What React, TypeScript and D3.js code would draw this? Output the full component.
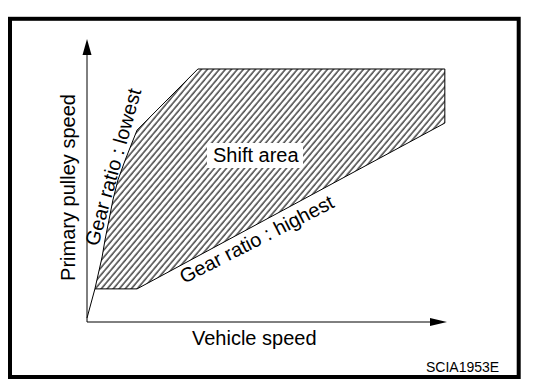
import React from "react";
import * as d3 from "d3";

// Shift-area boundary (vehicle speed %, primary pulley speed %)
const boundarySpeed = [2.2, 13.9, 99.4, 99.4, 30.8, 13.9, 10.6, 8.6, 7.2, 6.1, 5.0, 4.2];
const boundaryPulley = [11.7, 11.7, 70.3, 89.4, 89.4, 67.8, 57.2, 50.2, 43.1, 36.0, 29.0, 23.0];
// start-up line from origin to the lowest-ratio line
const startSpeed = [0, 2.2];
const startPulley = [1.4, 11.7];

const axisLabels = { x: "Vehicle speed", y: "Primary pulley speed" };
const areaLabel = "Shift area";
const lowestLabel = "Gear ratio : lowest";
const highestLabel = "Gear ratio : highest";
const codeLabel = "SCIA1953E";

const W = 560;
const H = 390;
const FONT = "'Liberation Sans', Arial, Helvetica, sans-serif";

export default function App() {
  const x = d3.scaleLinear().domain([0, 100]).range([87, 447]);
  const y = d3.scaleLinear().domain([0, 100]).range([322, 39]);

  const pts: [number, number][] = boundarySpeed.map((s, i) => [s, boundaryPulley[i]]);
  const area = d3
    .line<[number, number]>()
    .x((d) => x(d[0]))
    .y((d) => y(d[1]))(pts) + "Z";
  const startPts: [number, number][] = startSpeed.map((s, i) => [s, startPulley[i]]);
  const startLine = d3
    .line<[number, number]>()
    .x((d) => x(d[0]))
    .y((d) => y(d[1]))(startPts);

  const x0 = x(0);
  const y0 = y(0);
  const xTip = x(100);
  const yTip = y(100);

  return (
    <svg
      width={W}
      height={H}
      style={{ position: "absolute", left: 0, top: 0, display: "block", background: "#fff" }}
      fontFamily={FONT}
    >
      <defs>
        <pattern
          id="hatch"
          patternUnits="userSpaceOnUse"
          width={4.6}
          height={10}
          patternTransform="rotate(40)"
        >
          <line x1={1} y1={-1} x2={1} y2={11} stroke="#000" strokeWidth={1.1} />
        </pattern>
      </defs>
      <rect x={0} y={0} width={W} height={H} fill="#fff" />
      <rect x={10} y={18.8} width={508.7} height={358.2} fill="none" stroke="#000" strokeWidth={4} />

      {/* shift area */}
      <path d={area} fill="url(#hatch)" stroke="#000" strokeWidth={1} />
      <path d={startLine ?? ""} fill="none" stroke="#000" strokeWidth={1} />

      {/* axes */}
      <line x1={x0} y1={y0} x2={x0} y2={yTip + 14} stroke="#000" strokeWidth={1} />
      <path d={`M${x0},${yTip} L${x0 - 4.5},${yTip + 16} L${x0 + 4.5},${yTip + 16} Z`} fill="#000" />
      <line x1={x0} y1={y0} x2={xTip - 14} y2={y0} stroke="#000" strokeWidth={1} />
      <path d={`M${xTip},${y0} L${xTip - 17},${y0 - 4} L${xTip - 17},${y0 + 4} Z`} fill="#000" />

      {/* labels */}
      <rect x={207} y={143} width={96} height={25} fill="#fff" />
      <text x={213} y={162} fontSize={20} fill="#000">
        {areaLabel}
      </text>
      <text x={192} y={345} fontSize={20} fill="#000">
        {axisLabels.x}
      </text>
      <text
        transform={`translate(75,187.5) rotate(-90)`}
        textAnchor="middle"
        fontSize={20}
        fill="#000"
      >
        {axisLabels.y}
      </text>
      <text transform={`translate(98,247) rotate(-74.5)`} fontSize={20} fill="#000">
        {lowestLabel}
      </text>
      <text transform={`translate(184,284) rotate(-27)`} fontSize={20} fill="#000">
        {highestLabel}
      </text>
      <text x={426} y={372} fontSize={14} fill="#000">
        {codeLabel}
      </text>
    </svg>
  );
}
